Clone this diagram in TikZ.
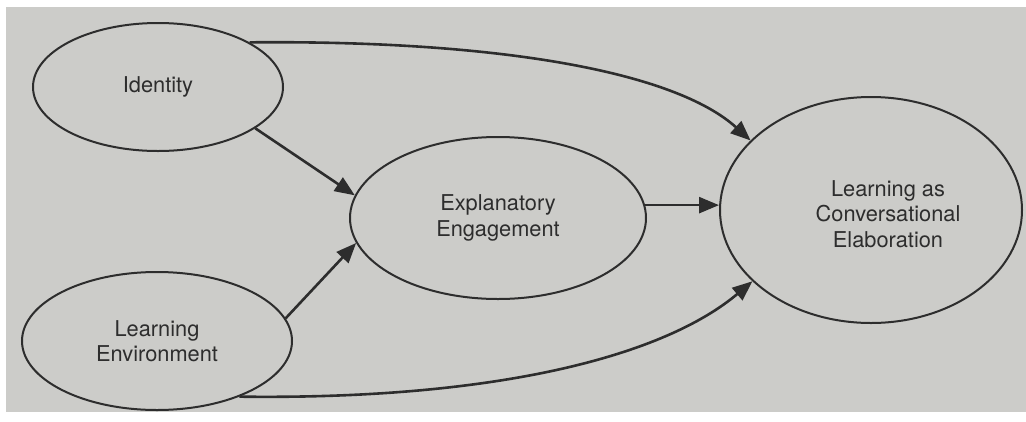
\documentclass[tikz,border=0pt]{standalone}
\usepackage{fontspec}
\setmainfont{TeX Gyre Heros}
\usetikzlibrary{shapes.geometric,arrows.meta}
\definecolor{paper}{RGB}{204,204,201}
\definecolor{ink}{RGB}{45,45,45}
\definecolor{txt}{RGB}{45,45,45}
\begin{document}
\begin{tikzpicture}[x=1pt,y=-1pt,
  ell/.style={ellipse,draw=ink,line width=2pt,inner sep=0pt,text=txt,align=center,
              font=\fontsize{21.8}{25.5}\selectfont},
  lbl/.style={text=txt,align=center,inner sep=0pt,font=\fontsize{21.8}{25.5}\selectfont},
  conn/.style={draw=ink,line width=2.6pt,-{Triangle[length=20pt,width=16pt]}}]
\useasboundingbox (0,0) rectangle (1026,421);
\fill[white] (0,0) rectangle (1026,421);
\fill[paper] (6,7) rectangle (1026,412);
\node[ell,minimum width=250pt,minimum height=128pt] (id) at (158,87) {Identity};
\node[ell,minimum width=270pt,minimum height=138pt] (le) at (157,341) {Learning\\Environment};
\node[ell,minimum width=296pt,minimum height=162pt] (ee) at (498,218) {Explanatory\\Engagement};
\node[ell,minimum width=302pt,minimum height=226pt] (lce) at (871,210) {};
\node[lbl] (lcet) at (888,214) {Learning as\\Conversational\\Elaboration};
\draw[conn] (id.-23.5) -- (ee.171);
\draw[conn] (le.10) -- (ee.190.4);
\draw[conn] (ee.5) -- (lce.west |- ee.5);
\draw[conn] (id.26) .. controls (500,40) and (675,72) .. (lce.150.7);
\draw[conn] (le.-34.5) .. controls (500,400) and (665,355) .. (lce.211.1);
\end{tikzpicture}
\end{document}
